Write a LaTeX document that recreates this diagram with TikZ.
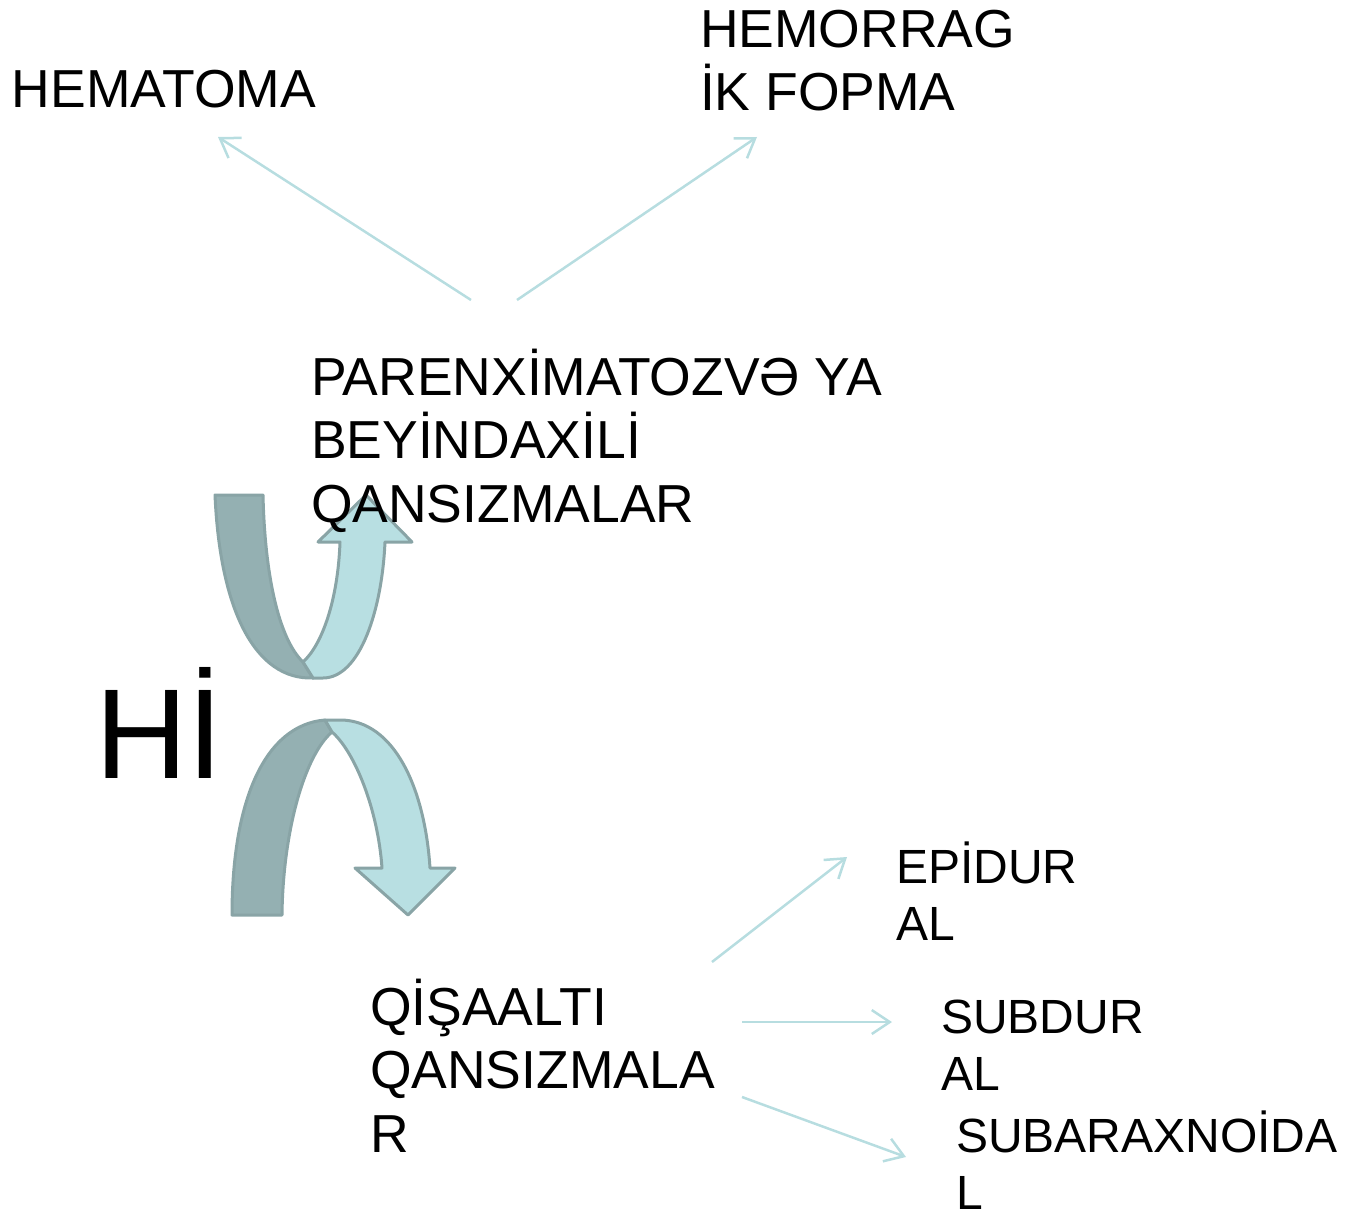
\documentclass[tikz,border=0pt]{standalone}
\usepackage{fontspec}
\setmainfont{Liberation Sans}
\usetikzlibrary{arrows.meta}
\definecolor{linkblue}{HTML}{B7DDE0}
\definecolor{banddark}{HTML}{94B0B2}
\definecolor{bandlight}{HTML}{B8DFE2}
\definecolor{bandedge}{HTML}{89A4A6}
\begin{document}
\begin{tikzpicture}[
			x=1pt, y=-1pt
			,every node/.append style={inner sep=0pt, outer sep=0pt, anchor=base west, align=left}
			,big/.style={font=\fontsize{53.5}{63.5}\selectfont}
			,small/.style={font=\fontsize{48}{57}\selectfont}
			,huge/.style={font=\fontsize{128}{150}\selectfont}
			,link/.style={draw=linkblue, line width=2.5pt, -{Straight Barb[length=18pt,width=24pt,line width=2.5pt]}}
			,band/.style={draw=bandedge, line width=3pt, line join=round}
		]
			\useasboundingbox (0,0) rectangle (1352,1214);
			\draw [band, fill=banddark] (215,495) -- (263,495) .. controls (265,580) and (280,640) .. (303,662) -- (313,678) .. controls (255,680) and (220,610) .. (215,495) -- cycle;
			\draw [band, fill=bandlight] (303,662) .. controls (322,645) and (338,600) .. (340,542) -- (318,542) -- (366,495) -- (412,542) -- (385,542) .. controls (382,610) and (360,678) .. (323,678) -- (313,678) -- cycle;
			\draw [band, fill=banddark] (232,915) -- (282,915) .. controls (283,830) and (305,755) .. (332,732) -- (325,720) .. controls (265,725) and (232,800) .. (232,915) -- cycle;
			\draw [band, fill=bandlight] (325,720) -- (332,732) .. controls (355,752) and (378,810) .. (382,868) -- (355,868) -- (408,915) -- (455,868) -- (430,868) .. controls (425,790) and (395,720) .. (340,720) -- cycle;
			\node [big] (hematoma) at (12,108) {HEMATOMA};
			\node [big] (hemorrag) at (700,111) {HEMORRAG\\İK FOPMA};
			\node [big] (parenx) at (311,522) {PARENXİMATOZVƏ YA\\BEYİNDAXİLİ\\QANSIZMALAR};
			\node [huge] (hi) at (95,778) {Hİ};
			\node [big] (qisa) at (370,1152) {QİŞAALTI\\QANSIZMALA\\R};
			\node [small] (epidural) at (896,940) {EPİDUR\\AL};
			\node [small] (subdural) at (941,1090) {SUBDUR\\AL};
			\node [small] (subarax) at (956,1209) {SUBARAXNOİDA\\L};
			\coordinate (parenxL) at (471,300);
			\coordinate (parenxR) at (517,300);
			\coordinate (hematomaT) at (218,137);
			\coordinate (hemorragT) at (757,137);
			\coordinate (qisaA) at (712,962);
			\coordinate (qisaB) at (742,1022);
			\coordinate (qisaC) at (742,1097);
			\coordinate (epiduralT) at (847,857);
			\coordinate (subduralT) at (892,1022);
			\coordinate (subaraxT) at (906,1157);
			\draw [link] (parenxL) -- (hematomaT);
			\draw [link] (parenxR) -- (hemorragT);
			\draw [link] (qisaA) -- (epiduralT);
			\draw [link] (qisaB) -- (subduralT);
			\draw [link] (qisaC) -- (subaraxT);
		\end{tikzpicture}
\end{document}
